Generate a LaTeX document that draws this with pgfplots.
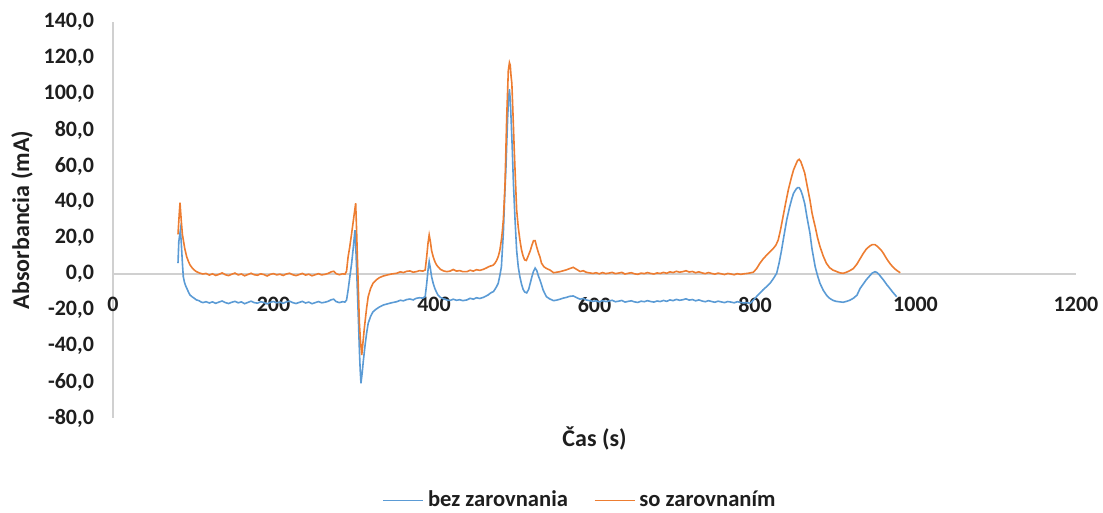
\documentclass[border=0pt]{standalone}
\usepackage{pgfplots}
\pgfplotsset{compat=1.18}
\usepackage{fontspec}
\setmainfont{Carlito}
\definecolor{cblue}{HTML}{5B9BD5}
\definecolor{corange}{HTML}{ED7D31}
\definecolor{cgrid}{HTML}{D0D0D0}
\definecolor{ctext}{HTML}{1E1E1E}
\begin{document}
\begin{tikzpicture}
\useasboundingbox (-56.5pt,-47.5pt) rectangle (495pt,209pt);
\begin{axis}[
  at={(0,0)}, anchor=south west, scale only axis,
  width=481.5pt, height=198pt,
  xmin=0, xmax=1200, ymin=-80, ymax=140,
  axis x line*=middle, axis y line*=left,
  axis line style={draw=cgrid, line width=0.8pt},
  xtick={0,200,...,1200}, ytick={-80,-60,...,140},
  major tick length=0pt, tick style={draw=none},
  hide obscured x ticks=false,
  /pgf/number format/assume math mode=true,
  tick label style={font=\fontsize{11}{13}\selectfont\bfseries, text=ctext},
  x tick label style={/pgf/number format/1000 sep={}, yshift=-8pt},
  y tick label style={/pgf/number format/fixed, /pgf/number format/fixed zerofill,
     /pgf/number format/precision=1, /pgf/number format/use comma, xshift=-6pt},
  scaled y ticks=false, scaled x ticks=false,
  xlabel={Čas (s)}, ylabel={Absorbancia (mA)},
  label style={font=\fontsize{12}{14}\selectfont\bfseries, text=ctext},
  xlabel style={at={(axis description cs:0.5,-0.0505)}, anchor=center},
  ylabel style={at={(axis description cs:-0.0945,0.5)}, anchor=center},
  legend style={at={(axis description cs:0.486,-0.208)}, anchor=center, draw=none, fill=none,
     legend columns=2, font=\fontsize{11.3}{13}\selectfont\bfseries, text=ctext,
     /tikz/every even column/.append style={column sep=11pt}},
  legend cell align=left,
  legend image code/.code={\draw[#1, line width=0.75pt] (0pt,0pt) -- (20pt,0pt);},
]
\addplot[cblue, line width=0.8pt] coordinates {
(81,6) (82,18) (84,24.4) (85,18) (86.5,6) (87.6,-1.5) (89,-4.5) (90.5,-6.5) (91.8,-7.8) (94,-10) (96,-11.7) (99,-12.8) (101,-13.4) (104,-14.4) (107,-14.8) (110,-15.6) (112,-15.9)
(116,-15.4) (120,-16.1) (124,-15.5) (128,-16.3) (132,-15.6) (136,-15.0) (140,-15.9) (144,-16.4) (148,-15.7) (152,-15.2) (156,-16.0) (160,-15.5) (164,-16.5) (168,-15.8) (172,-15.1) (176,-15.9) (180,-16.2) (184,-15.4) (188,-15.8) (192,-16.6) (196,-15.7) (200,-15.3) (204,-16.0) (208,-15.6) (212,-16.3) (216,-15.5) (220,-15.1) (224,-15.9) (228,-16.4) (232,-15.8) (236,-15.2) (240,-16.1) (244,-15.6) (248,-16.5) (252,-15.9) (256,-15.3) (260,-16.0) (264,-15.7) (268,-15.2) (272,-14.3) (275,-14.0) (278,-15.3) (282,-15.9) (286,-15.4) (289,-15.6)
(291,-14.5) (293,-8.9) (295,-2) (297.4,6) (299.5,15) (301.5,24.4) (303,10) (304.5,-8.9) (306,-28) (307,-42) (308,-53) (309,-60.7) (310.5,-55) (312,-48) (314,-40) (316,-33) (318,-27.4) (321,-23.5) (324,-21) (328,-19.5) (332,-18.3) (337,-17.2) (342,-16.6) (347,-16.0) (353.5,-15.4) (358,-14.6) (362,-14.9) (366,-14.2) (370,-13.9) (374,-14.4) (378,-13.5) (382,-13.2) (386,-13.4) (389,-12.6)
(391,-5) (392.5,2) (394,6.9) (395.5,3) (397,-1.5) (399,-5.2) (401,-8) (403,-10) (405,-11.7) (408,-13) (412,-13.8) (416,-14.4) (420,-14.7) (424,-14.0) (428,-14.6) (432,-14.3) (436,-14.8) (441,-14.4) (445,-13.5) (449,-14.0) (453,-13.2) (457,-13.6) (461.5,-13.0) (465,-12.2) (468,-11.5) (470,-10.7) (472,-10.2) (474,-9.8) (476,-8.5) (478,-7) (480,-5.2) (482,-1) (484,4) (485,12) (486.4,22.6) (488,42) (489.7,59.6) (491,77) (491.8,87) (493,98) (494,102.6) (495,97) (496,87) (497.5,70) (499,50) (501,30) (503,13) (505,4) (507,-1.5) (509,-5.5) (511,-8.5) (513,-10) (515.5,-10.5) (518,-8.5) (520,-5) (522,-1.5) (524,1.5) (526,3.3) (528,2) (530,-1) (532,-3.3) (534,-6) (536,-8.9) (540,-12.6) (544,-13.8) (549,-14.8)
(553,-14.5) (557,-14.0) (561,-13.4) (565,-13.0) (569,-12.4) (573.5,-12.2) (578,-13.2) (582,-14.0) (586,-13.6) (590,-14.5) (594,-14.8) (598,-15.2) (602,-14.9) (606,-15.5) (610,-14.8) (614,-15.3) (618,-15.0) (622,-14.6) (626,-15.4) (630,-15.1) (634,-14.7) (638,-15.6) (642,-15.2) (646,-14.9) (650,-15.5) (654,-15.8) (658,-15.1) (662,-15.4) (666,-14.8) (670,-15.3) (674,-15.6) (678,-15.0) (682,-15.3) (686,-14.7) (690,-15.2) (694,-14.4) (698,-14.8) (702,-14.1) (706,-14.6) (710,-14.3) (714,-13.8) (718,-14.5) (722,-14.2) (726,-14.9) (730,-14.4) (734,-15.0) (738,-15.4) (742,-14.8) (746,-15.3) (750,-15.7) (754,-15.1) (758,-15.5) (762,-15.9) (766,-15.3) (770,-15.6) (774,-16.0) (778,-15.4) (782,-15.8) (786,-16.1) (790,-15.9) (794,-16.3)
(798,-14.5) (802,-12.5) (806,-10.7) (810,-8.8) (814,-7.2) (818.7,-5.2) (823,-2.5) (827,0.4) (830,6) (833,13) (836,21) (839.5,30) (843,37) (846,42) (848,44.8) (851,47) (853,48) (855,48) (857,46.5) (859,44) (862,39) (865,31) (868.5,22.6) (871,14) (873,9) (875,4) (878,-1) (881,-5.2) (885,-9) (889,-11.7) (893,-13.5) (897,-14.6) (901,-15.2) (906,-15.5) (910,-15.7) (914,-15.2) (918,-14.6) (922.5,-13.5) (927,-11.8) (931,-8) (935,-5.5) (939,-3) (943,-1) (946,0.5) (949.5,1.3) (952,0.8) (955,-0.5) (958,-2.2) (960,-3.3) (964,-5.8) (968,-8) (972,-10.3) (976.5,-12.6)
};
\addlegendentry{bez zarovnania}
\addplot[corange, line width=0.8pt] coordinates {
(81,22) (82.5,33) (83.5,39.6) (85,30) (86.5,22) (87.6,19) (89.5,14) (91.8,9.6) (94,7) (96,5) (99,3.2) (101,2.3) (104,1.3) (108,0.5) (112,0)
(116,0.3) (120,-0.6) (124,0.1) (128,-0.8) (132,-0.2) (136,0.6) (140,-0.4) (144,-0.9) (148,-0.1) (152,0.5) (156,-0.5) (160,0.0) (164,-1.0) (168,-0.3) (172,0.4) (176,-0.4) (180,-0.7) (184,0.1) (188,-0.3) (192,-1.1) (196,-0.2) (200,0.2) (204,-0.5) (208,-0.1) (212,-0.8) (216,0.0) (220,0.4) (224,-0.4) (228,-0.9) (232,-0.3) (236,0.3) (240,-0.6) (244,-0.1) (248,-1.0) (252,-0.4) (256,0.2) (260,-0.5) (264,-0.2) (268,0.3) (272,1.2) (275,1.5) (278,0.2) (282,-0.4) (286,0.1) (289,-0.1)
(291,1.5) (293,9.6) (295,15) (297.4,22.6) (299,28) (300.5,33) (302.4,39.3) (303.5,25) (304.5,9.6) (306,-12) (307,-27) (308.5,-38) (310,-45) (311.5,-38) (313,-31) (314,-27) (316,-19) (318,-12.6) (321,-8) (324,-5.2) (328,-3.3) (332,-2.0) (337,-1.1) (342,-0.5) (347,0.0) (353.5,0.4) (358,1.2) (362,0.8) (366,1.5) (370,1.7) (374,1.0) (378,1.3) (382,1.9) (386,1.6) (389,2.2)
(391,10) (392.5,17) (394,21.7) (395.5,18) (397,13) (399,9.6) (401,7) (403,5.2) (405,4) (408,2.6) (412,1.7) (416,1.3) (420,1.6) (424,2.5) (428,1.6) (432,1.9) (436,1.3) (441,1.3) (445,2.1) (449,1.6) (453,2.4) (457,2.0) (461.5,2.6) (465,3.3) (468,4.0) (470,4.4) (472,4.6) (474,5) (476,6) (478,7.5) (480,9.6) (482,13) (484,19) (485,23) (486.4,30) (487.5,40) (488.5,50) (490.6,87) (492.6,113) (494,117.4) (495,116) (496,110) (497,106) (498.5,88) (500,69) (501.5,52) (503,35.6) (505,26) (507,19) (509,13.5) (511,10) (513,7.8) (515,7.5) (517,9.6) (520,13) (522,16) (524,18.5) (526,18.5) (528,15) (530,12) (532,9.5) (534,6) (537,4) (540,3.1) (544.5,2.2) (549,0.7)
(553,1.0) (557,1.3) (561,1.8) (565,2.3) (569,3.0) (573.5,3.7) (578,2.5) (582,1.4) (586,1.8) (590,0.9) (594,0.6) (598,0.3) (602,0.7) (606,0.1) (610,0.8) (614,0.2) (618,0.5) (622,0.9) (626,0.2) (630,0.5) (634,0.9) (638,0.0) (642,0.4) (646,0.7) (650,0.1) (654,-0.2) (658,0.5) (662,0.2) (666,0.8) (670,0.3) (674,0.0) (678,0.6) (682,0.3) (686,0.9) (690,0.4) (694,1.2) (698,0.8) (702,1.5) (706,1.0) (710,1.3) (714,1.8) (718,1.1) (722,1.4) (726,0.7) (730,1.2) (734,0.6) (738,0.2) (742,0.8) (746,0.3) (750,-0.1) (754,0.5) (758,0.1) (762,-0.3) (766,0.3) (770,0.0) (774,-0.4) (778,0.2) (782,-0.2) (786,0.1) (790,0.3) (794,0.6)
(798,1.0) (802,3) (806,5.9) (810,8.3) (814.5,10.5) (819,12.5) (823,14.3) (826,16) (829,19) (832,25) (835,32) (838,39) (841.5,46.7) (845,53) (848,57.8) (851,61) (853,63) (855,63.7) (857,62.5) (859,60) (862,56) (865,49) (868.5,41) (871,34) (873,30) (875,26.3) (878,20) (881,15.2) (885,10) (889,5.9) (893,3.5) (897,2.2) (902,1.3) (906,0.6) (910,0.4) (914,1.0) (918,1.8) (922.5,3) (927,5.5) (931,8.5) (935,11.5) (939,14) (943,15.5) (946,16.3) (949.5,16.3) (952,15.5) (955,14.3) (958,12.8) (960,11.5) (964,8.5) (968,5.9) (972,3.8) (976,2.2) (981,0.7)
};
\addlegendentry{so zarovnaním}
\end{axis}
\end{tikzpicture}
\end{document}
